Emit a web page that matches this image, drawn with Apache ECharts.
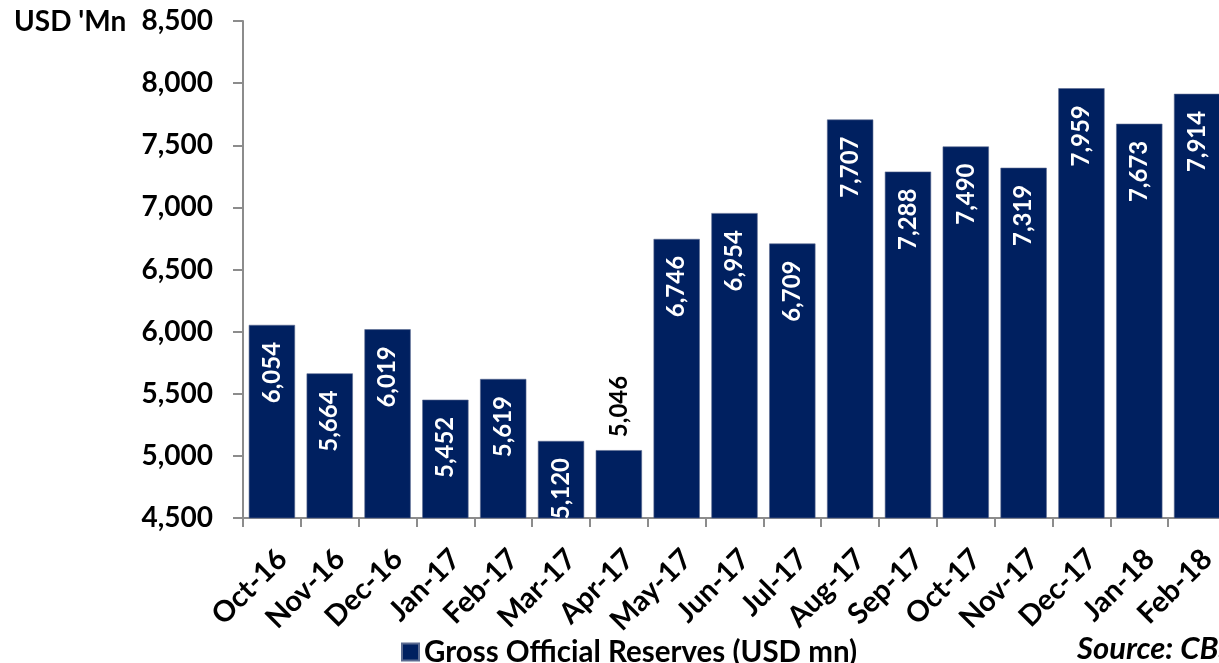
<!DOCTYPE html>
<html>
<head>
<meta charset="utf-8">
<script src="https://cdn.jsdelivr.net/npm/echarts@6/dist/echarts.min.js"></script>
<style>
  html, body { margin: 0; padding: 0; background: #ffffff; overflow: hidden; }
  /* the plot runs a few pixels past the right edge of the page */
  #chart { width: 1228px; height: 663px; }
</style>
</head>
<body>
<div id="chart"></div>
<script>
// Monthly gross official reserves, USD million
const months = ['Oct-16', 'Nov-16', 'Dec-16', 'Jan-17', 'Feb-17', 'Mar-17', 'Apr-17', 'May-17', 'Jun-17',
  'Jul-17', 'Aug-17', 'Sep-17', 'Oct-17', 'Nov-17', 'Dec-17', 'Jan-18', 'Feb-18'];
const reserves = [6054, 5664, 6019, 5452, 5619, 5120, 5046, 6746, 6954,
  6709, 7707, 7288, 7490, 7319, 7959, 7673, 7914];
const seriesName = 'Gross Official Reserves (USD mn)';
const unitLabel = "USD 'Mn";
const sourceNote = 'Source: CBSL';

const FONT = 'Lato, "Open Sans", sans-serif';
const NAVY = '#002060';
const fmt = v => Math.round(v).toLocaleString('en-US');

// Bars too short for an inside label carry their value above the bar in black
const outsideLabel = new Set(['Apr-17']);

const barData = reserves.map((v, i) => {
  if (outsideLabel.has(months[i])) {
    return {
      value: v,
      label: {
        position: 'top', distance: 13, rotate: 90,
        align: 'left', verticalAlign: 'middle', color: '#000000'
      }
    };
  }
  return v;
});

const chart = echarts.init(document.getElementById('chart'), null, { renderer: 'canvas' });
chart.setOption({
  animation: false,
  backgroundColor: '#ffffff',
  textStyle: { fontFamily: FONT },
  grid: { left: 243, top: 21, bottom: 145, width: 983, containLabel: false },
  legend: {
    data: [seriesName],
    left: 396, top: 632,
    itemWidth: 17, itemHeight: 17, itemGap: 10,
    icon: 'rect',
    textStyle: { fontFamily: FONT, fontSize: 29.5, fontWeight: 'bold', color: '#000000' }
  },
  graphic: [
    { type: 'text', left: 14, top: 8,
      style: { text: unitLabel, fontFamily: FONT, fontSize: 28, fontWeight: 'bold', fill: '#000000' } },
    { type: 'text', left: 1077, top: 633,
      style: { text: sourceNote, fontFamily: FONT, fontSize: 31, fontWeight: 'bold', fontStyle: 'italic', fill: '#000000' } }
  ],
  xAxis: {
    type: 'category',
    data: months,
    axisLine: { lineStyle: { color: '#8c8c8c', width: 2 } },
    axisTick: { show: true, alignWithLabel: false, length: 9, lineStyle: { color: '#8c8c8c', width: 2 } },
    axisLabel: {
      rotate: 45, interval: 0, margin: 26,
      align: 'right', verticalAlign: 'top',
      fontFamily: FONT, fontSize: 29, fontWeight: 'bold', color: '#000000'
    }
  },
  yAxis: {
    type: 'value',
    min: 4500, max: 8500, interval: 500,
    axisLine: { show: true, lineStyle: { color: '#8c8c8c', width: 2 } },
    axisTick: { show: true, length: 10, lineStyle: { color: '#8c8c8c', width: 2 } },
    splitLine: { show: false },
    axisLabel: {
      margin: 30, formatter: fmt,
      fontFamily: FONT, fontSize: 28, fontWeight: 'bold', color: '#000000'
    }
  },
  series: [{
    name: seriesName,
    type: 'bar',
    data: barData,
    barCategoryGap: '20%',
    itemStyle: { color: NAVY, borderColor: '#5a6a90', borderWidth: 0.6 },
    label: {
      show: true,
      position: 'insideTop', distance: 17, rotate: 90,
      align: 'right', verticalAlign: 'middle',
      formatter: p => fmt(p.value),
      fontFamily: FONT, fontSize: 24, fontWeight: 'bold', color: '#ffffff'
    }
  }]
});
</script>
</body>
</html>
